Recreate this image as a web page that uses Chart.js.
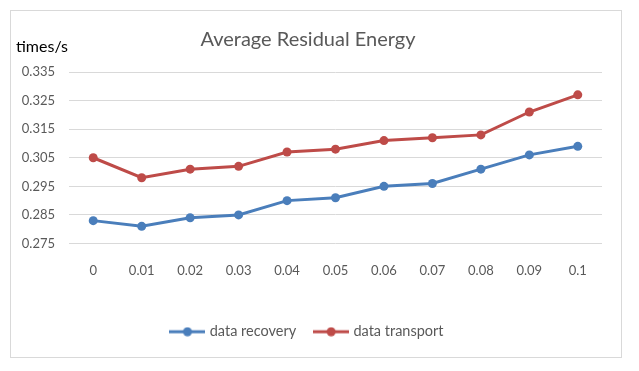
<!DOCTYPE html>
<html>
<head>
<meta charset="utf-8">
<script src="https://cdn.jsdelivr.net/npm/chart.js@4.4.1/dist/chart.umd.min.js"></script>
<style>
  html, body { margin: 0; padding: 0; background: #fff; }
  #frame { position: absolute; left: 10px; top: 10px; width: 610px; height: 346px; border: 1px solid #d9d9d9; }
  #wrap { position: absolute; left: 0; top: 0; width: 639px; height: 371px; }
</style>
</head>
<body>
<div id="frame"></div>
<div id="wrap"><canvas id="chart" width="639" height="371"></canvas></div>
<script>
// categories and series
const labels = ["0", "0.01", "0.02", "0.03", "0.04", "0.05", "0.06", "0.07", "0.08", "0.09", "0.1"];
const recovery = [0.283, 0.281, 0.284, 0.285, 0.290, 0.291, 0.295, 0.296, 0.301, 0.306, 0.309];
const transport = [0.305, 0.298, 0.301, 0.302, 0.307, 0.308, 0.311, 0.312, 0.313, 0.321, 0.327];

const blue = "#4a7ebb";
const red = "#be4b48";
const textGray = "#595959";

// legend marker: short line with a dot in the middle
function legendMarker(color) {
  const c = document.createElement("canvas");
  c.width = 36;
  c.height = 10;
  const g = c.getContext("2d");
  g.strokeStyle = color;
  g.lineWidth = 3;
  g.beginPath();
  g.moveTo(0, 5);
  g.lineTo(36, 5);
  g.stroke();
  g.fillStyle = color;
  g.beginPath();
  g.arc(18, 5, 4.5, 0, Math.PI * 2);
  g.fill();
  return c;
}

// "times/s" unit label at top left
const unitLabel = {
  id: "unitLabel",
  afterDraw(chart) {
    const ctx = chart.ctx;
    ctx.save();
    ctx.font = "16px Lato";
    ctx.fillStyle = "#000";
    ctx.textBaseline = "alphabetic";
    ctx.fillText("times/s", 16, 52);
    ctx.restore();
  },
};

new Chart(document.getElementById("chart"), {
  type: "line",
  data: {
    labels: labels,
    datasets: [
      {
        label: "data recovery",
        data: recovery,
        borderColor: blue,
        backgroundColor: blue,
        borderWidth: 3,
        pointRadius: 4.5,
        pointBackgroundColor: blue,
        pointBorderWidth: 0,
        pointStyle: "circle",
        tension: 0,
      },
      {
        label: "data transport",
        data: transport,
        borderColor: red,
        backgroundColor: red,
        borderWidth: 3,
        pointRadius: 4.5,
        pointBackgroundColor: red,
        pointBorderWidth: 0,
        pointStyle: "circle",
        tension: 0,
      },
    ],
  },
  options: {
    responsive: false,
    animation: false,
    layout: { padding: { left: 14, right: 37, top: 0, bottom: 22 } },
    scales: {
      x: {
        offset: true,
        grid: { display: false },
        border: { display: false },
        ticks: { color: textGray, font: { family: "Lato", size: 13 }, padding: 12, maxRotation: 0 },
        afterFit: (s) => { s.height = 61; },
      },
      y: {
        min: 0.275,
        max: 0.335,
        grid: { color: "#d9d9d9", lineWidth: 1, drawTicks: false },
        border: { display: false },
        ticks: {
          stepSize: 0.01,
          color: textGray,
          font: { family: "Lato", size: 13 },
          padding: 14,
          callback: (v) => v.toFixed(3),
        },
        afterFit: (s) => { s.width = 55; },
      },
    },
    plugins: {
      title: {
        display: true,
        text: "Average Residual Energy",
        color: textGray,
        font: { family: "Lato", size: 20, weight: "normal" },
        padding: { top: 28, bottom: 20 },
      },
      legend: {
        position: "bottom",
        labels: {
          color: textGray,
          font: { family: "Lato", size: 14.5 },
          usePointStyle: true,
          pointStyleWidth: 30,
          padding: 20,
          generateLabels: (chart) =>
            chart.data.datasets.map((ds, i) => ({
              text: ds.label,
              fontColor: textGray,
              pointStyle: legendMarker(ds.borderColor),
              datasetIndex: i,
              hidden: false,
              lineWidth: 0,
            })),
        },
      },
      tooltip: { enabled: false },
    },
  },
  plugins: [unitLabel],
});
</script>
</body>
</html>
